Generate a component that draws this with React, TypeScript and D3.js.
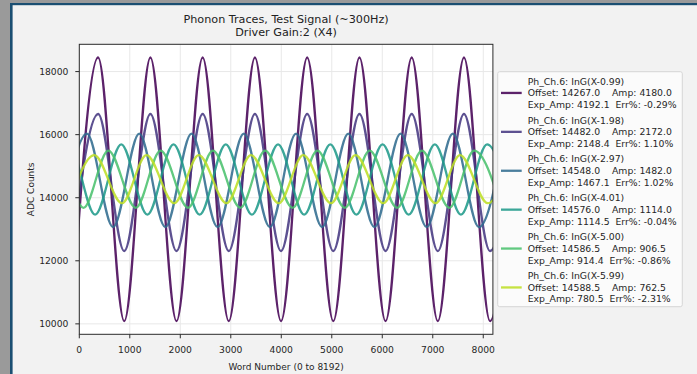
import * as d3 from 'd3';

const W = 697;
const H = 374;

const title = ['Phonon Traces, Test Signal (~300Hz)', 'Driver Gain:2 (X4)'];
const xTicks = [0, 1000, 2000, 3000, 4000, 5000, 6000, 7000, 8000];
const yTicks = [10000, 12000, 14000, 16000, 18000];

const labels = [
  'Ph_Ch.6: InG(X-0.99)',
  'Ph_Ch.6: InG(X-1.98)',
  'Ph_Ch.6: InG(X-2.97)',
  'Ph_Ch.6: InG(X-4.01)',
  'Ph_Ch.6: InG(X-5.00)',
  'Ph_Ch.6: InG(X-5.99)',
];
const offsets = [14267.0, 14482.0, 14548.0, 14576.0, 14586.5, 14588.5];
const amps = [4180.0, 2172.0, 1482.0, 1114.0, 906.5, 762.5];
const expAmps = [4192.1, 2148.4, 1467.1, 1114.5, 914.4, 780.5];
const errs = ['-0.29%', '1.10%', '1.02%', '-0.04%', '-0.86%', '-2.31%'];
const colors = ['#440154', '#453781', '#2f6b8e', '#1f9a8a', '#4ac16d', '#bddf26'];

// word numbers of the turning points of each trace.
// every list starts with a trough, then alternates peak / trough
const turns1 = [-145, 373, 890, 1408, 1925, 2443, 2960, 3478, 3995, 4513, 5030, 5548, 6065, 6583, 7100, 7618, 8135, 8653];
const turns2 = [-145, 373, 890, 1408, 1925, 2443, 2960, 3478, 3995, 4513, 5030, 5548, 6065, 6583, 7100, 7618, 8135, 8653];
const turns3 = [-366, 152, 669, 1187, 1704, 2222, 2739, 3257, 3774, 4292, 4809, 5327, 5844, 6362, 6879, 7397, 7914, 8432];
const turns4 = [-722, -204, 313, 831, 1348, 1866, 2383, 2901, 3418, 3936, 4453, 4971, 5488, 6006, 6523, 7041, 7558, 8076, 8593];
const turns5 = [-952, -460, 83, 575, 1118, 1610, 2153, 2645, 3188, 3680, 4223, 4715, 5258, 5750, 6293, 6785, 7328, 7820, 8363];
const turns6 = [-190, 295, 845, 1330, 1880, 2365, 2915, 3400, 3950, 4435, 4985, 5470, 6020, 6505, 7055, 7540, 8090, 8575];
const turns = [turns1, turns2, turns3, turns4, turns5, turns6];

const font = 'DejaVu Sans, sans-serif';

export default function App() {
  const x = d3.scaleLinear().domain([0, 8191]).range([79.3, 492.9]);
  const y = d3.scaleLinear().domain([9669, 18865]).range([334.3, 44.3]);
  const [x0, x1] = x.range();
  const [y0, y1] = y.range();

  const line = d3.line<[number, number]>()
    .x(d => x(d[0]))
    .y(d => y(d[1]))
    .curve(d3.curveMonotoneX);

  const series = turns.map((t, i) =>
    t.map((w, k) => [w, k % 2 === 0 ? offsets[i] - amps[i] : offsets[i] + amps[i]] as [number, number])
  );

  // legend layout
  const lgX = 497.7, lgY = 71.7, lgW = 184.6, lgH = 235;
  const rowH = 11.65, entryH = 38.9, firstBase = 84.6;

  return (
    <svg width={W} height={H} style={{ position: 'absolute', left: 0, top: 0, display: 'block' }}
      fontFamily={font}>
      <rect width={W} height={H} fill="#f2f2f2" />
      {/* window frame */}
      <rect x={0} y={0} width={W} height={3} fill="#9a9a9a" />
      <rect x={0} y={0} width={10} height={H} fill="#9a9a9a" />
      <rect x={10} y={3} width={W - 10} height={2.2} fill="#1b4f72" />
      <rect x={10} y={3} width={2.6} height={H - 3} fill="#1b4f72" />

      {/* title */}
      <text x={(x0 + x1) / 2} y={23} textAnchor="middle" fontSize={11.2} fill="#222">{title[0]}</text>
      <text x={(x0 + x1) / 2} y={36.3} textAnchor="middle" fontSize={11.2} fill="#222">{title[1]}</text>

      <defs>
        <clipPath id="plot">
          <rect x={x0} y={y1} width={x1 - x0} height={y0 - y1} />
        </clipPath>
      </defs>

      <rect x={x0} y={y1} width={x1 - x0} height={y0 - y1} fill="#ffffff" />

      {/* grid */}
      {xTicks.map(t => (
        <line key={'gx' + t} x1={x(t)} x2={x(t)} y1={y1} y2={y0} stroke="#e8e8e8" strokeWidth={1} />
      ))}
      {yTicks.map(t => (
        <line key={'gy' + t} x1={x0} x2={x1} y1={y(t)} y2={y(t)} stroke="#e8e8e8" strokeWidth={1} />
      ))}

      {/* traces */}
      <g clipPath="url(#plot)">
        {series.map((s, i) => (
          <path key={i} d={line(s) || ''} fill="none" stroke={colors[i]} strokeOpacity={0.87}
            strokeWidth={2.3} strokeLinejoin="round" />
        ))}
      </g>

      {/* frame */}
      <rect x={x0} y={y1} width={x1 - x0} height={y0 - y1} fill="none" stroke="#2b2b2b" strokeWidth={1} />

      {/* y axis */}
      {yTicks.map(t => (
        <g key={'y' + t}>
          <line x1={x0 - 4} x2={x0} y1={y(t)} y2={y(t)} stroke="#2b2b2b" strokeWidth={1} />
          <text x={68.4} y={y(t) + 3.3} textAnchor="end" fontSize={9.2} fill="#262626">{t}</text>
        </g>
      ))}
      <text transform={`translate(33.5,${(y0 + y1) / 2}) rotate(-90)`} textAnchor="middle" fontSize={9} fill="#262626">ADC Counts</text>

      {/* x axis */}
      {xTicks.map(t => (
        <g key={'x' + t}>
          <line x1={x(t)} x2={x(t)} y1={y0} y2={y0 + 4} stroke="#2b2b2b" strokeWidth={1} />
          <text x={x(t)} y={353.4} textAnchor="middle" fontSize={9.2} fill="#262626">{t}</text>
        </g>
      ))}
      <text x={(x0 + x1) / 2} y={369.8} textAnchor="middle" fontSize={9} fill="#262626">Word Number (0 to 8192)</text>

      {/* legend */}
      <rect x={lgX} y={lgY} width={lgW} height={lgH} rx={2} fill="#fbfbfb" stroke="#d6d6d6" strokeWidth={1} />
      {labels.map((lab, i) => {
        const b = firstBase + i * entryH;
        return (
          <g key={'lg' + i} fontSize={9.3} fill="#262626" style={{ whiteSpace: 'pre' }}>
            <line x1={501} x2={521.7} y1={b + rowH - 3.3} y2={b + rowH - 3.3} stroke={colors[i]}
              strokeOpacity={0.87} strokeWidth={2.3} />
            <text x={527.7} y={b} xmlSpace="preserve">{lab}</text>
            <text x={527.7} y={b + rowH} xmlSpace="preserve">{`Offset: ${offsets[i].toFixed(1)}    Amp: ${amps[i].toFixed(1)}`}</text>
            <text x={527.7} y={b + 2 * rowH} xmlSpace="preserve">{`Exp_Amp: ${expAmps[i].toFixed(1)}  Err%: ${errs[i]}`}</text>
          </g>
        );
      })}
    </svg>
  );
}
